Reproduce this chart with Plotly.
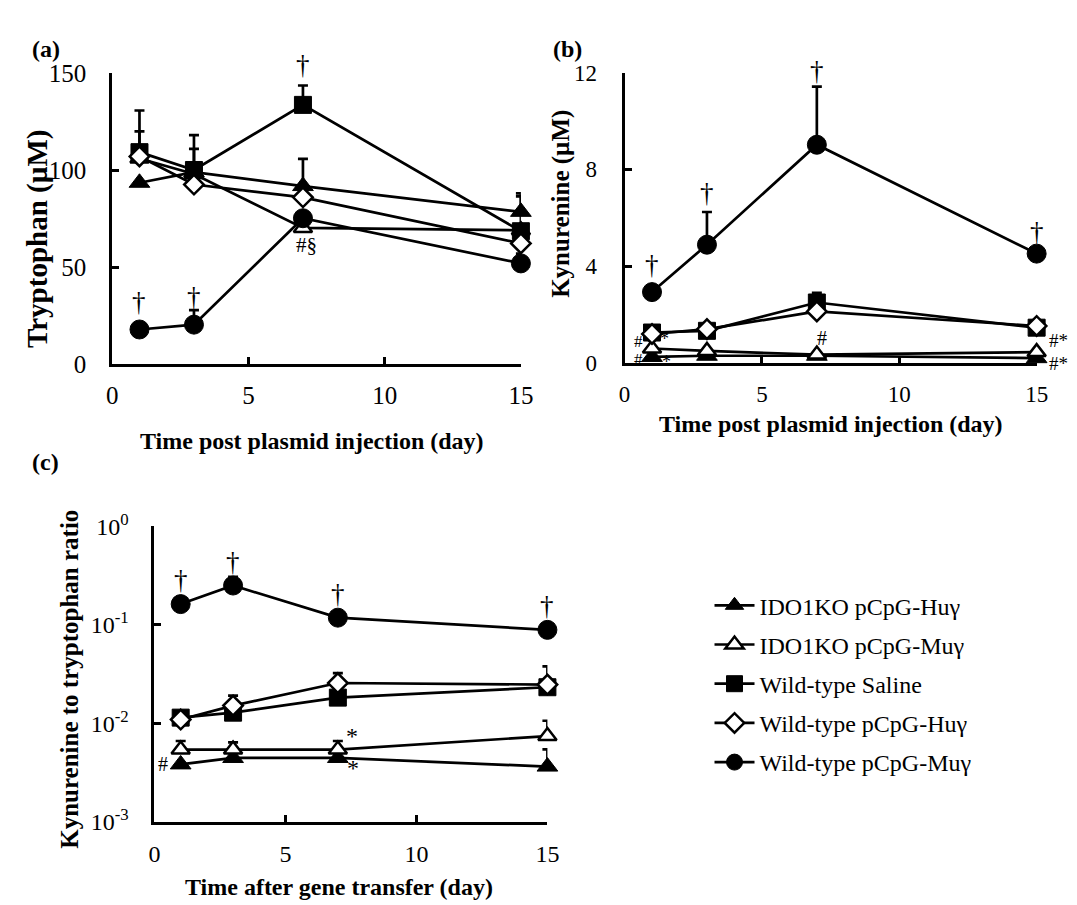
import math
import plotly.graph_objects as go

W, H = 1077, 905

days = [1, 3, 7, 15]
names = ["IDO1KO pCpG-Huγ", "IDO1KO pCpG-Muγ", "Wild-type Saline",
         "Wild-type pCpG-Huγ", "Wild-type pCpG-Muγ"]

# (a) Tryptophan (µM)
trp_ido_hu = [93.5, 99.0, 91.8, 78.5]
trp_ido_mu = [106.0, 98.0, 70.2, 69.0]
trp_wt_saline = [109.3, 100.1, 133.7, 68.5]
trp_wt_hu = [107.1, 92.6, 86.0, 62.2]
trp_wt_mu = [17.8, 20.3, 75.2, 51.9]
trp_err_ido_hu = [0, 0, 14.0, 9.5]
trp_err_ido_mu = [14.0, 13.0, 0, 0]
trp_err_wt_saline = [21.5, 18.0, 10.0, 18.0]
trp_err_wt_hu = [0, 0, 0, 0]
trp_err_wt_mu = [0, 7.5, 0, 5.0]

# (b) Kynurenine (µM)
kyn_ido_hu = [0.25, 0.3, 0.3, 0.2]
kyn_ido_mu = [0.6, 0.5, 0.35, 0.45]
kyn_wt_saline = [1.26, 1.33, 2.5, 1.46]
kyn_wt_hu = [1.2, 1.4, 2.13, 1.53]
kyn_wt_mu = [2.93, 4.89, 9.02, 4.52]
kyn_err_ido_hu = [0, 0, 0, 0.25]
kyn_err_ido_mu = [0, 0, 0, 0]
kyn_err_wt_saline = [0, 0, 0.4, 0]
kyn_err_wt_hu = [0, 0, 0, 0]
kyn_err_wt_mu = [0, 1.35, 2.4, 0]

# (c) Kynurenine to tryptophan ratio
ratio_ido_hu = [0.00382, 0.00444, 0.00444, 0.00363]
ratio_ido_mu = [0.0054, 0.0054, 0.0054, 0.0074]
ratio_wt_saline = [0.0114, 0.0128, 0.0182, 0.0232]
ratio_wt_hu = [0.0109, 0.0151, 0.0256, 0.0247]
ratio_wt_mu = [0.162, 0.25, 0.118, 0.0887]
ratio_err_ido_hu = [0, 0, 0, 0.0018]
ratio_err_ido_mu = [0.0012, 0.001, 0.0012, 0.0032]
ratio_err_wt_saline = [0, 0, 0, 0]
ratio_err_wt_hu = [0, 0.004, 0.0066, 0.013]
ratio_err_wt_mu = [0, 0.057, 0.0, 0]

x_ticks = [0, 5, 10, 15]
trp_ticks = [0, 50, 100, 150]
kyn_ticks = [0, 4, 8, 12]
ratio_ticks = [0.001, 0.01, 0.1, 1]
ratio_tick_text = ["10<sup>-3</sup>", "10<sup>-2</sup>", "10<sup>-1</sup>", "10<sup>0</sup>"]

FONT = "Liberation Serif"
styles = [
    dict(symbol="triangle-up", size=18, color="black", line=dict(color="black", width=1)),
    dict(symbol="triangle-up", size=16, color="white", line=dict(color="black", width=2.5)),
    dict(symbol="square", size=17, color="black", line=dict(color="black", width=1)),
    dict(symbol="diamond", size=15, color="white", line=dict(color="black", width=2.5)),
    dict(symbol="circle", size=19, color="black", line=dict(color="black", width=1)),
]

fig = go.Figure()

panels = [
    ("x", "y", [trp_ido_hu, trp_ido_mu, trp_wt_saline, trp_wt_hu, trp_wt_mu],
     [trp_err_ido_hu, trp_err_ido_mu, trp_err_wt_saline, trp_err_wt_hu, trp_err_wt_mu]),
    ("x2", "y2", [kyn_ido_hu, kyn_ido_mu, kyn_wt_saline, kyn_wt_hu, kyn_wt_mu],
     [kyn_err_ido_hu, kyn_err_ido_mu, kyn_err_wt_saline, kyn_err_wt_hu, kyn_err_wt_mu]),
    ("x3", "y3", [ratio_ido_hu, ratio_ido_mu, ratio_wt_saline, ratio_wt_hu, ratio_wt_mu],
     [ratio_err_ido_hu, ratio_err_ido_mu, ratio_err_wt_saline, ratio_err_wt_hu, ratio_err_wt_mu]),
]

for pi, (xa, ya, series, errs) in enumerate(panels):
    for si, (vals, err) in enumerate(zip(series, errs)):
        fig.add_trace(go.Scatter(
            x=days, y=vals, xaxis=xa, yaxis=ya, mode="lines+markers",
            name=names[si], showlegend=(pi == 2), legendgroup=names[si],
            line=dict(color="black", width=2.7),
            marker=styles[si], cliponaxis=False,
            error_y=dict(type="data", symmetric=False, array=err,
                         arrayminus=[0] * len(err), color="black",
                         thickness=2.7, width=5, visible=any(e > 0 for e in err)),
        ))

def dom_x(a, b):
    return [a / W, b / W]

def dom_y(top, bottom):
    return [1 - bottom / H, 1 - top / H]

def axis_style(size):
    return dict(showline=True, linecolor="black", linewidth=3, ticks="inside",
                ticklen=7, tickwidth=3, tickcolor="black", showgrid=False,
                zeroline=False, tickfont=dict(family=FONT, size=size, color="black"))

fig.update_layout(
    width=W, height=H, margin=dict(l=0, r=0, t=0, b=0),
    paper_bgcolor="white", plot_bgcolor="white",
    font=dict(family=FONT, color="black"),
    xaxis=dict(domain=dom_x(100, 516), range=[0, 15], tickvals=x_ticks, anchor="y",
               ticklabelstandoff=7, **axis_style(25)),
    yaxis=dict(domain=dom_y(50, 351), range=[0, 150], tickvals=trp_ticks, anchor="x",
               ticklabelstandoff=18, **axis_style(25)),
    xaxis2=dict(domain=dom_x(621.5, 1041), range=[0, 15], tickvals=x_ticks, anchor="y2",
                ticklabelstandoff=8, **axis_style(23)),
    yaxis2=dict(domain=dom_y(49.3, 350), range=[0, 12], tickvals=kyn_ticks, anchor="x2",
                ticklabelstandoff=20, **axis_style(23)),
    xaxis3=dict(domain=dom_x(143, 543), range=[0, 15], tickvals=x_ticks, anchor="y3",
                ticklabelstandoff=8, **axis_style(24)),
    yaxis3=dict(domain=dom_y(519, 825), type="log", range=[-3, 0], tickvals=ratio_ticks,
                ticktext=ratio_tick_text, anchor="x3", ticklabelstandoff=18, **axis_style(24)),
    legend=dict(x=708 / W, y=1 - 578 / H, xanchor="left", yanchor="top",
                font=dict(family=FONT, size=24, color="black"),
                bgcolor="rgba(0,0,0,0)", tracegroupgap=5, itemwidth=40),
)

def px_ann(text, x, y, size=24, bold=True, angle=0):
    fig.add_annotation(text=f"<b>{text}</b>" if bold else text, x=x / W, y=1 - y / H,
                       xref="paper", yref="paper", showarrow=False, textangle=angle,
                       font=dict(family=FONT, size=size, color="black"),
                       xanchor="center", yanchor="middle")

px_ann("(a)", 33, 25)
px_ann("(b)", 563, 25)
px_ann("(c)", 32, 452)
px_ann("Time post plasmid injection (day)", 303, 431)
px_ann("Time post plasmid injection (day)", 832, 413)
px_ann("Time after gene transfer (day)", 331, 893)
px_ann("Tryptophan (µM)", 24, 222, size=29, angle=-90)
px_ann("Kynurenine (µM)", 556, 185, size=25, angle=-90)
px_ann("Kynurenine to tryptophan ratio", 57, 677, size=25, angle=-90)

def data_ann(text, xa, ya, x, y, xshift=0, yshift=0, size=22):
    fig.add_annotation(text=text, x=x, y=y, xref=xa, yref=ya, showarrow=False,
                       xshift=xshift, yshift=yshift,
                       font=dict(family=FONT, size=size, color="black"))

DAG = 27
# (a) significance marks
data_ann("†", "x", "y", days[2], trp_wt_saline[2] + trp_err_wt_saline[2], yshift=20, size=DAG)
data_ann("†", "x", "y", days[0], trp_wt_mu[0], yshift=27, size=DAG)
data_ann("†", "x", "y", days[1], trp_wt_mu[1], yshift=28, size=DAG)
data_ann("#§", "x", "y", days[2], trp_ido_mu[2], xshift=4, yshift=-17, size=21)
# (b) significance marks
dag_b_shift = [27, 19, 16, 22]
for i in range(4):
    data_ann("†", "x2", "y2", days[i], kyn_wt_mu[i] + kyn_err_wt_mu[i],
             yshift=dag_b_shift[i], size=DAG)
data_ann("#", "x2", "y2", days[0], kyn_ido_mu[0], xshift=-14, yshift=7, size=17)
data_ann("#", "x2", "y2", days[0], kyn_ido_hu[0], xshift=-14, yshift=-3, size=17)
data_ann("*", "x2", "y2", days[0], kyn_ido_mu[0], xshift=12, yshift=9, size=18)
data_ann("*", "x2", "y2", days[0], kyn_ido_hu[0], xshift=14, yshift=-5, size=18)
data_ann("#", "x2", "y2", days[2], kyn_ido_mu[2], xshift=5, yshift=17, size=20)
data_ann("#*", "x2", "y2", days[3], kyn_ido_mu[3], xshift=22, yshift=12, size=19)
data_ann("#*", "x2", "y2", days[3], kyn_ido_hu[3], xshift=22, yshift=-5, size=19)
# (c) significance marks
for i in range(4):
    data_ann("†", "x3", "y3", days[i], math.log10(ratio_wt_mu[i]), yshift=24, size=DAG)
data_ann("*", "x3", "y3", days[2], math.log10(ratio_ido_mu[2]), xshift=14, yshift=14, size=24)
data_ann("*", "x3", "y3", days[2], math.log10(ratio_ido_hu[2]), xshift=15, yshift=-10, size=24)
data_ann("#", "x3", "y3", days[0], math.log10(ratio_ido_hu[0]), xshift=-18, size=20)

fig.write_html("out.html")
